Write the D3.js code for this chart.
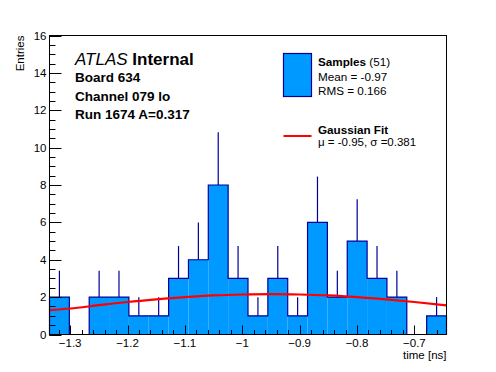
<!DOCTYPE html>
<html lang="en">
<head>
<meta charset="utf-8">
<style type="text/css">
    body { margin: 0; background: #fff; }
    text { font-family: "Liberation Sans", Arial, sans-serif; }
    .tick-label { font-size: 11.5px; }
</style>
</head>
<body>
<svg width="496" height="372"></svg>

<script src="https://cdn.jsdelivr.net/npm/d3@7/dist/d3.min.js"></script>
<script type="text/javascript">

    // histogram: 20 bins of time [ns]
    var binLow = -1.336, binHigh = -0.644;
    var counts = [2, 0, 2, 2, 1, 1, 3, 4, 8, 3, 1, 3, 1, 6, 2, 5, 3, 2, 0, 1];

    // gaussian fit curve
    var fitX = [-1.336, -1.30, -1.25, -1.20, -1.15, -1.10, -1.05, -1.00, -0.95, -0.90, -0.85, -0.80, -0.75, -0.70, -0.644];
    var fitY = [1.30, 1.39, 1.57, 1.74, 1.88, 2.00, 2.09, 2.14, 2.16, 2.14, 2.09, 2.00, 1.88, 1.74, 1.56];

    var xTicks = [-1.3, -1.2, -1.1, -1.0, -0.9, -0.8, -0.7];
    var xTickLabels = ["\u22121.3", "\u22121.2", "\u22121.1", "\u22121", "\u22120.9", "\u22120.8", "\u22120.7"];
    var yTicks = [0, 2, 4, 6, 8, 10, 12, 14, 16];

    var infoLines = ["Board 634", "Channel 079 lo", "Run 1674 A=0.317"];

    var fillColor = "#0099ff", lineColor = "#000099";

    var svg = d3.select("svg");
    var padL = 49.5, padR = 446.5, padT = 35.5, padB = 334.5;

    var x = d3.scaleLinear().domain([binLow, binHigh]).range([padL, padR]);
    var y = d3.scaleLinear().domain([0, 16]).range([padB, padT]);

    var bw = (binHigh - binLow) / counts.length;
    var bins = counts.map(function (c, i) {
        return { x0: binLow + i * bw, x1: binLow + (i + 1) * bw, n: c };
    });

    // filled bars
    svg.append("g").selectAll("rect")
        .data(bins.filter(function (d) { return d.n > 0; }))
        .enter().append("rect")
        .attr("x", function (d) { return x(d.x0); })
        .attr("y", function (d) { return y(d.n); })
        .attr("width", function (d) { return x(d.x1) - x(d.x0); })
        .attr("height", function (d) { return y(0) - y(d.n); })
        .attr("fill", fillColor);

    // step outline
    var pts = [[binLow, 0]];
    bins.forEach(function (d) { pts.push([d.x0, d.n]); pts.push([d.x1, d.n]); });
    pts.push([binHigh, 0]);
    svg.append("path")
        .attr("d", d3.line().x(function (d) { return x(d[0]); }).y(function (d) { return y(d[1]); })(pts))
        .attr("fill", "none")
        .attr("stroke", lineColor)
        .attr("stroke-width", 1.2);

    // error bars (upper half only)
    svg.append("g").selectAll("line")
        .data(bins.filter(function (d) { return d.n > 0; }))
        .enter().append("line")
        .attr("x1", function (d) { return x((d.x0 + d.x1) / 2); })
        .attr("x2", function (d) { return x((d.x0 + d.x1) / 2); })
        .attr("y1", function (d) { return y(d.n); })
        .attr("y2", function (d) { return y(d.n + Math.sqrt(d.n)); })
        .attr("stroke", lineColor)
        .attr("stroke-width", 1.2);

    // fit
    svg.append("path")
        .attr("d", d3.line()
            .x(function (d, i) { return x(fitX[i]); })
            .y(function (d) { return y(d); })
            .curve(d3.curveMonotoneX)(fitY))
        .attr("fill", "none")
        .attr("stroke", "#ff0000")
        .attr("stroke-width", 2.2);

    // frame
    svg.append("rect")
        .attr("x", padL).attr("y", padT)
        .attr("width", padR - padL).attr("height", padB - padT)
        .attr("fill", "none").attr("stroke", "#000").attr("stroke-width", 1);

    // x axis ticks (inside), major 0.1 minor 0.02
    var xMinor = d3.range(-1.32, -0.65, 0.02);
    var xAxis = svg.append("g");
    xAxis.selectAll(".minor").data(xMinor).enter().append("line")
        .attr("x1", function (d) { return Math.round(x(d)) + 0.5; })
        .attr("x2", function (d) { return Math.round(x(d)) + 0.5; })
        .attr("y1", padB).attr("y2", padB - 4.5)
        .attr("stroke", "#000");
    xAxis.selectAll(".major").data(xTicks).enter().append("line")
        .attr("x1", function (d) { return Math.round(x(d)) + 0.5; })
        .attr("x2", function (d) { return Math.round(x(d)) + 0.5; })
        .attr("y1", padB).attr("y2", padB - 9)
        .attr("stroke", "#000");
    xAxis.selectAll("text").data(xTicks).enter().append("text")
        .attr("class", "tick-label")
        .attr("x", function (d) { return x(d); })
        .attr("y", 347)
        .attr("text-anchor", "middle")
        .text(function (d, i) { return xTickLabels[i]; });

    // y axis ticks (inside), major 2 minor 0.5
    var yMinor = d3.range(0, 16.01, 0.5);
    var yAxis = svg.append("g");
    yAxis.selectAll(".minor").data(yMinor).enter().append("line")
        .attr("x1", padL).attr("x2", padL + 6)
        .attr("y1", function (d) { return Math.round(y(d)) + 0.5; })
        .attr("y2", function (d) { return Math.round(y(d)) + 0.5; })
        .attr("stroke", "#000");
    yAxis.selectAll(".major").data(yTicks).enter().append("line")
        .attr("x1", padL).attr("x2", padL + 12)
        .attr("y1", function (d) { return Math.round(y(d)) + 0.5; })
        .attr("y2", function (d) { return Math.round(y(d)) + 0.5; })
        .attr("stroke", "#000");
    yAxis.selectAll("text").data(yTicks).enter().append("text")
        .attr("class", "tick-label")
        .attr("x", 46.5)
        .attr("y", function (d) { return y(d) + 4; })
        .attr("text-anchor", "end")
        .text(function (d) { return d; });

    // axis titles
    svg.append("text")
        .attr("x", padR).attr("y", 358.5)
        .attr("text-anchor", "end")
        .style("font-size", "11.5px")
        .text("time [ns]");
    svg.append("text")
        .attr("transform", "translate(23.5," + padT + ") rotate(-90)")
        .attr("text-anchor", "end")
        .style("font-size", "11.5px")
        .text("Entries");

    // ATLAS label
    var atlas = svg.append("text").attr("x", 75).attr("y", 65).style("font-size", "17px");
    atlas.append("tspan").style("font-style", "italic").text("ATLAS");
    atlas.append("tspan").style("font-weight", "bold").text(" Internal");

    svg.append("g").selectAll("text")
        .data(infoLines).enter().append("text")
        .attr("x", 75)
        .attr("y", function (d, i) { return [82, 101, 119][i]; })
        .style("font-size", "13.5px")
        .style("font-weight", "bold")
        .text(function (d) { return d; });

    // legend
    var leg = svg.append("g");
    leg.append("rect")
        .attr("x", 283.5).attr("y", 53.5).attr("width", 28).attr("height", 43)
        .attr("fill", fillColor).attr("stroke", lineColor).attr("stroke-width", 1.2);
    var t1 = leg.append("text").attr("x", 318).attr("y", 65.5).style("font-size", "11.7px");
    t1.append("tspan").style("font-weight", "bold").text("Samples");
    t1.append("tspan").text(" (51)");
    leg.append("text").attr("x", 318).attr("y", 80.5).style("font-size", "11.7px").text("Mean = -0.97");
    leg.append("text").attr("x", 318).attr("y", 95).style("font-size", "11.7px").text("RMS = 0.166");

    leg.append("line")
        .attr("x1", 283.5).attr("x2", 311.5).attr("y1", 136).attr("y2", 136)
        .attr("stroke", "#ff0000").attr("stroke-width", 2);
    leg.append("text").attr("x", 318).attr("y", 134).style("font-size", "11.7px")
        .style("font-weight", "bold").text("Gaussian Fit");
    leg.append("text").attr("x", 318).attr("y", 146).style("font-size", "11.5px")
        .text("\u03bc = -0.95, \u03c3 =0.381");

</script>
</body>
</html>
